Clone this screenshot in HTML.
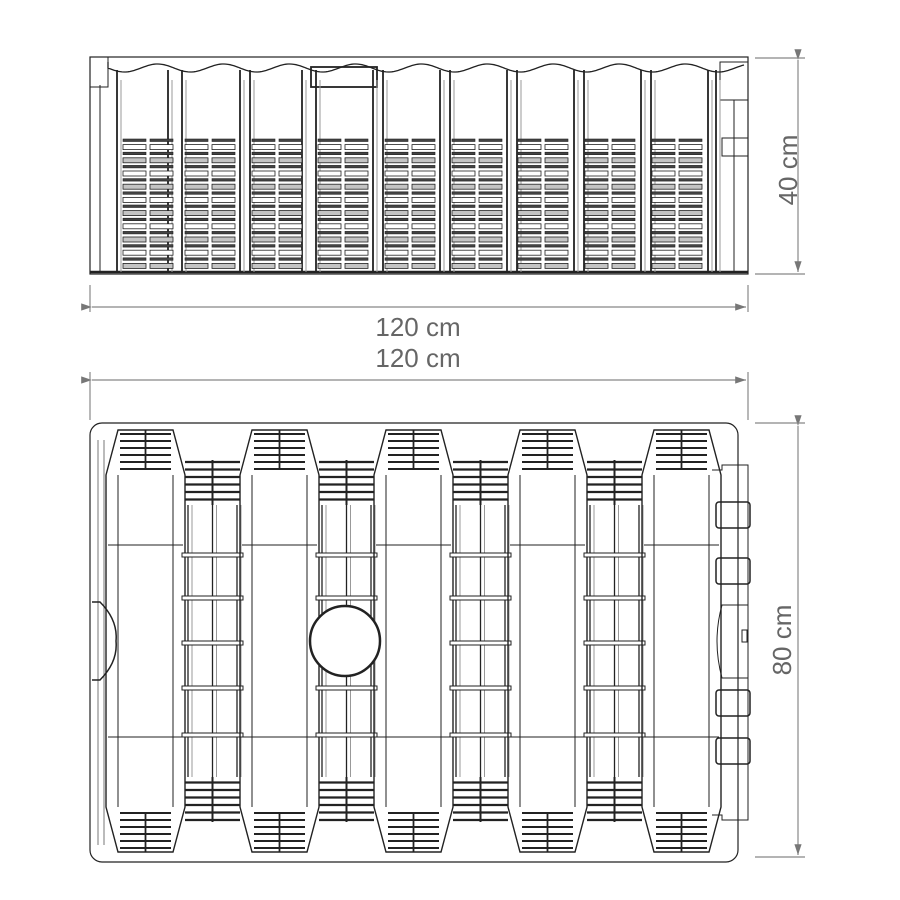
<!DOCTYPE html>
<html><head><style>
html,body{margin:0;padding:0;background:#fff;width:900px;height:900px;overflow:hidden}
svg{display:block}
text{font-family:"Liberation Sans",sans-serif;fill:#666;font-size:26px}
</style></head><body>
<svg id="s" width="900" height="900" viewBox="0 0 900 900" xmlns="http://www.w3.org/2000/svg">
<defs>
<marker id="a" markerWidth="10" markerHeight="8" refX="9" refY="4" orient="auto"><path d="M0,1 L9,4 L0,7 Z" fill="#777"/></marker>
</defs>
<g stroke="#888" stroke-width="1.2" fill="none">
<line x1="92" y1="307" x2="746" y2="307" marker-end="url(#a)" marker-start="url(#a)"/>
<line x1="90" y1="285" x2="90" y2="312"/><line x1="748" y1="285" x2="748" y2="312"/>
<line x1="92" y1="380" x2="746" y2="380" marker-end="url(#a)" marker-start="url(#a)"/>
<line x1="90" y1="372" x2="90" y2="420"/><line x1="748" y1="372" x2="748" y2="420"/>
<line x1="798" y1="60" x2="798" y2="272" marker-end="url(#a)" marker-start="url(#a)"/>
<line x1="755" y1="58" x2="805" y2="58"/><line x1="755" y1="274" x2="805" y2="274"/>
<line x1="798" y1="426" x2="798" y2="855" marker-end="url(#a)" marker-start="url(#a)"/>
<line x1="755" y1="423" x2="805" y2="423"/><line x1="755" y1="857" x2="805" y2="857"/>
</g>
<text x="418" y="336" text-anchor="middle">120 cm</text>
<text x="418" y="367" text-anchor="middle">120 cm</text>
<text transform="translate(797,170) rotate(-90)" text-anchor="middle">40 cm</text>
<text transform="translate(791,640) rotate(-90)" text-anchor="middle" font-size="27">80 cm</text>
<g id="top" stroke="#222" fill="none" stroke-width="1"></g>
<g id="bot" stroke="#222" fill="none" stroke-width="1"></g>
</svg>
<script>
var NS="http://www.w3.org/2000/svg";
function el(g,t,a){var e=document.createElementNS(NS,t);for(var k in a)e.setAttribute(k,a[k]);g.appendChild(e);return e;}
var T=document.getElementById("top"),B=document.getElementById("bot");
el(T,"rect",{x:90,y:57,width:658,height:217,"stroke-width":1.2});
el(T,"line",{x1:90,y1:272,x2:748,y2:272,"stroke-width":2.5});
var d="M108,62";for(var x=108;x<=745;x+=2){d+=" L"+x+","+(68+4*Math.sin((x-108)/66*2*Math.PI)).toFixed(1);}
el(T,"path",{d:d,"stroke-width":1.3});
el(T,"rect",{x:311,y:67,width:66,height:20,"stroke-width":1.8});
el(T,"rect",{x:90,y:57,width:18,height:30});
el(T,"line",{x1:100,y1:85,x2:100,y2:272});
el(T,"rect",{x:720,y:62,width:28,height:38});
el(T,"rect",{x:722,y:138,width:26,height:18});
el(T,"line",{x1:734,y1:100,x2:734,y2:272});
var divs=[117,168,182,240,250,302,316,373,383,440,450,507,517,574,584,641,651,708,716];
divs.forEach(function(x){el(T,"line",{x1:x,y1:70,x2:x,y2:272,"stroke-width":1.8});el(T,"line",{x1:x+4,y1:80,x2:x+4,y2:272,stroke:"#999"});});
var bays=[123,185,252,318,385,452,518,585,652];
bays.forEach(function(bx){[bx,bx+27].forEach(function(cx){
for(var i=0;i<20;i++){var y=139+i*6.6;
 if(i%2==0) el(T,"rect",{x:cx,y:y,width:23,height:2.5,fill:"#444","stroke-width":0.6});
 else el(T,"rect",{x:cx,y:y-1,width:23,height:5,fill:(i%4==1?"#fff":"#c4c4c4"),"stroke-width":0.8});}
});});
el(B,"rect",{x:90,y:423,width:648,height:439,rx:12,"stroke-width":1.2});
el(B,"line",{x1:98,y1:440,x2:98,y2:845,stroke:"#777"});
el(B,"line",{x1:104,y1:440,x2:104,y2:845,stroke:"#777"});
el(B,"path",{d:"M92,602 L100,602 Q118,620 116,641 Q118,662 100,680 L92,680","stroke-width":1.5});
var P=[118,252,386,520,654];
P.forEach(function(px,i){
 var w=55;
 el(B,"path",{d:"M"+(px-12)+",475 L"+px+",430 L"+(px+w)+",430 L"+(px+w+12)+",475 L"+(px+w+12)+",807 L"+(px+w)+",852 L"+px+",852 L"+(px-12)+",807 Z","stroke-width":1.4});
 el(B,"line",{x1:px,y1:475,x2:px,y2:807});el(B,"line",{x1:px+w,y1:475,x2:px+w,y2:807});
 el(B,"line",{x1:px-10,y1:545,x2:px+w+10,y2:545});el(B,"line",{x1:px-10,y1:737,x2:px+w+10,y2:737});
 for(var k=0;k<6;k++){var y=434+k*7;el(B,"line",{x1:px+2,y1:y,x2:px+w-2,y2:y,"stroke-width":2});
   var y2=848-k*7;el(B,"line",{x1:px+2,y1:y2,x2:px+w-2,y2:y2,"stroke-width":2});}
 el(B,"line",{x1:px+w/2,y1:430,x2:px+w/2,y2:470,"stroke-width":1.8});
 el(B,"line",{x1:px+w/2,y1:812,x2:px+w/2,y2:852,"stroke-width":1.8});
 if(i<4){var gx=px+w+12,gw=P[i+1]-12-gx;
  for(var k=0;k<6;k++){var y=462+k*7.5;el(B,"line",{x1:gx,y1:y,x2:gx+gw,y2:y,"stroke-width":2.2});
   var y2=820-k*7.5;el(B,"line",{x1:gx,y1:y2,x2:gx+gw,y2:y2,"stroke-width":2.2});}
  [gx+3,gx+gw/2,gx+gw-3].forEach(function(vx){
   el(B,"line",{x1:vx,y1:505,x2:vx,y2:777,"stroke-width":1.3});el(B,"line",{x1:vx+4,y1:505,x2:vx+4,y2:777,stroke:"#999"});
  });
  el(B,"line",{x1:gx+gw/2,y1:460,x2:gx+gw/2,y2:505,"stroke-width":2});
  el(B,"line",{x1:gx+gw/2,y1:777,x2:gx+gw/2,y2:822,"stroke-width":2});
  [555,598,643,688,735].forEach(function(y){el(B,"rect",{x:gx-3,y:y-2,width:gw+6,height:4,fill:"#fff","stroke-width":1});});
 }
});
el(B,"circle",{cx:345,cy:641,r:35,fill:"#fff","stroke-width":2.5});
el(B,"path",{d:"M712,470 L722,470 L722,465 L748,465 L748,820 L722,820 L722,815 L712,815"});
[512,568,700,748].forEach(function(y){el(B,"rect",{x:716,y:y-10,width:34,height:26,rx:3,"stroke-width":1.5});});
el(B,"path",{d:"M722,605 Q712,641 722,678 L748,678 L748,605 Z"});
el(B,"rect",{x:742,y:630,width:5,height:12});
</script>
</body></html>
